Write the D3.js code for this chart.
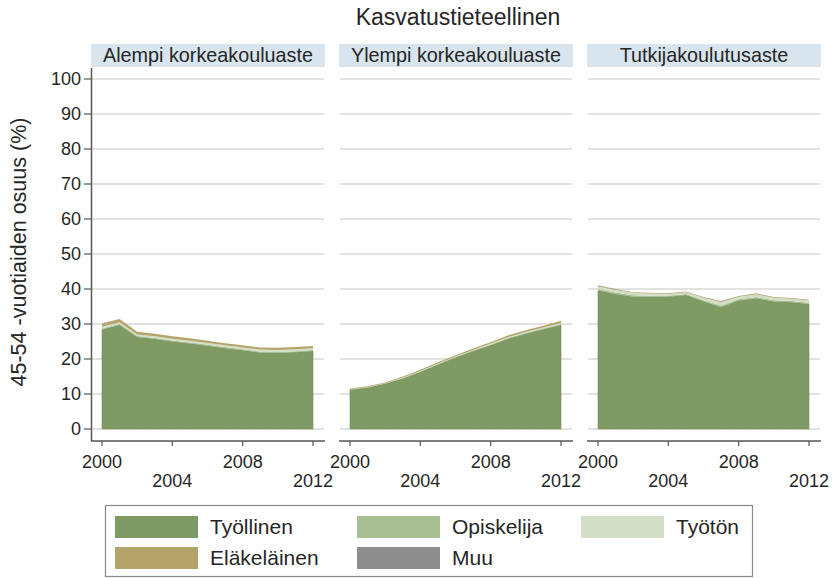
<!DOCTYPE html>
<html>
<head>
<meta charset="utf-8">
<script src="https://cdn.jsdelivr.net/npm/d3@7"></script>
<style>
  html, body { margin: 0; padding: 0; background: #fff; }
  svg { display: block; font-family: "Liberation Sans", Arial, Helvetica, sans-serif; }
</style>
</head>
<body>
<svg id="chart" width="833" height="578"></svg>
<script>
// Share of 45-54 year olds by main activity, education field: Kasvatustieteellinen
const chartTitle = "Kasvatustieteellinen";
const yAxisTitle = "45-54 -vuotiaiden osuus (%)";
const years = [2000, 2001, 2002, 2003, 2004, 2005, 2006, 2007, 2008, 2009, 2010, 2011, 2012];
const xTicks = [2000, 2004, 2008, 2012];
const yTicks = [0, 10, 20, 30, 40, 50, 60, 70, 80, 90, 100];
const panelNames = ["Alempi korkeakouluaste", "Ylempi korkeakouluaste", "Tutkijakoulutusaste"];
const seriesNames = ["Työllinen", "Opiskelija", "Työtön", "Eläkeläinen", "Muu"];
const seriesColors = ["#7f9a62", "#a8bf93", "#d3dec6", "#b4a46b", "#8e8e8e"];

// Alempi korkeakouluaste
const alempiTyollinen   = [28.4, 29.7, 26.3, 25.7, 25.0, 24.4, 23.8, 23.1, 22.5, 21.8, 21.7, 21.9, 22.3];
const alempiOpiskelija  = [0.3, 0.3, 0.3, 0.3, 0.3, 0.3, 0.3, 0.3, 0.3, 0.3, 0.3, 0.3, 0.3];
const alempiTyoton      = [0.5, 0.5, 0.4, 0.5, 0.5, 0.5, 0.5, 0.5, 0.5, 0.6, 0.6, 0.6, 0.5];
const alempiElakelainen = [0.9, 0.9, 0.8, 0.7, 0.7, 0.7, 0.6, 0.6, 0.6, 0.6, 0.6, 0.6, 0.6];
const alempiMuu         = [0.1, 0.0, 0.0, 0.0, 0.0, 0.0, 0.0, 0.0, 0.0, 0.0, 0.0, 0.0, 0.0];

// Ylempi korkeakouluaste
const ylempiTyollinen   = [11.2, 11.8, 12.9, 14.4, 16.3, 18.4, 20.4, 22.2, 23.9, 25.8, 27.2, 28.5, 29.7];
const ylempiOpiskelija  = [0.1, 0.1, 0.1, 0.1, 0.1, 0.1, 0.1, 0.2, 0.2, 0.2, 0.2, 0.2, 0.2];
const ylempiTyoton      = [0.1, 0.1, 0.1, 0.2, 0.2, 0.2, 0.2, 0.2, 0.3, 0.3, 0.3, 0.3, 0.4];
const ylempiElakelainen = [0.2, 0.2, 0.2, 0.3, 0.3, 0.4, 0.4, 0.4, 0.4, 0.5, 0.5, 0.5, 0.6];
const ylempiMuu         = [0.0, 0.0, 0.0, 0.0, 0.0, 0.0, 0.0, 0.0, 0.0, 0.0, 0.0, 0.0, 0.0];

// Tutkijakoulutusaste
const tutkijaTyollinen   = [39.6, 38.6, 37.8, 37.8, 37.8, 38.3, 36.4, 34.8, 36.7, 37.3, 36.4, 36.2, 35.7];
const tutkijaOpiskelija  = [0.4, 0.4, 0.4, 0.3, 0.3, 0.3, 0.4, 0.5, 0.4, 0.4, 0.4, 0.4, 0.4];
const tutkijaTyoton      = [0.7, 0.7, 0.7, 0.6, 0.5, 0.5, 0.7, 0.9, 0.7, 0.8, 0.7, 0.6, 0.6];
const tutkijaElakelainen = [0.3, 0.2, 0.2, 0.2, 0.2, 0.2, 0.2, 0.3, 0.2, 0.3, 0.2, 0.2, 0.2];
const tutkijaMuu         = [0.1, 0.1, 0.0, 0.0, 0.0, 0.0, 0.0, 0.1, 0.0, 0.0, 0.0, 0.0, 0.0];

const panelSeries = [
  [alempiTyollinen, alempiOpiskelija, alempiTyoton, alempiElakelainen, alempiMuu],
  [ylempiTyollinen, ylempiOpiskelija, ylempiTyoton, ylempiElakelainen, ylempiMuu],
  [tutkijaTyollinen, tutkijaOpiskelija, tutkijaTyoton, tutkijaElakelainen, tutkijaMuu]
];

// ---- layout ----
const svg = d3.select("#chart");
const textColor = "#262626";
const axisColor = "#555";
const gridColor = "#d8d8d8";
const stripColor = "#d8e5ee";

const panelLeft0 = 91, panelWidth = 234, panelGap = 14;
const stripTop = 44, stripBottom = 67;
const plotBottom = 441;
const padL = 11, padR = 12;

const y = d3.scaleLinear().domain([0, 100]).range([429, 79]);

// title
svg.append("text")
  .attr("x", 458).attr("y", 25)
  .attr("text-anchor", "middle")
  .attr("font-size", 23)
  .attr("fill", textColor)
  .text(chartTitle);

// y axis title
svg.append("text")
  .attr("transform", "translate(26,252) rotate(-90)")
  .attr("text-anchor", "middle")
  .attr("font-size", 21.5)
  .attr("fill", textColor)
  .text(yAxisTitle);

const stack = d3.stack()
  .keys(d3.range(seriesNames.length))
  .value((d, k) => d.vals[k]);

panelNames.forEach((name, p) => {
  const left = panelLeft0 + p * (panelWidth + panelGap);
  const right = left + panelWidth;
  const g = svg.append("g");

  const x = d3.scaleLinear().domain([2000, 2012]).range([left + padL, right - padR]);

  // strip
  g.append("rect")
    .attr("x", left).attr("y", stripTop)
    .attr("width", panelWidth).attr("height", stripBottom - stripTop)
    .attr("fill", stripColor);
  g.append("text")
    .attr("x", left + panelWidth / 2).attr("y", 62)
    .attr("text-anchor", "middle")
    .attr("font-size", 19.8)
    .attr("fill", textColor)
    .text(name);

  // gridlines
  g.selectAll("line.grid").data(yTicks).join("line")
    .attr("class", "grid")
    .attr("x1", left + 1).attr("x2", right - 1)
    .attr("y1", d => y(d)).attr("y2", d => y(d))
    .attr("stroke", gridColor).attr("stroke-width", 1.6);

  // stacked areas
  const rows = years.map((yr, i) => ({ year: yr, vals: panelSeries[p].map(s => s[i]) }));
  const layers = stack(rows);
  const area = d3.area()
    .x(d => x(d.data.year))
    .y0(d => y(d[0]))
    .y1(d => y(d[1]));
  g.selectAll("path.layer").data(layers).join("path")
    .attr("class", "layer")
    .attr("d", area)
    .attr("fill", (d, i) => seriesColors[i])
    .attr("stroke", (d, i) => i === 0 ? d3.color(seriesColors[i]).darker(0.25) : "none")
    .attr("stroke-width", 0.6);

  // x axis
  const xAxis = g.append("g");
  xAxis.append("line")
    .attr("x1", left).attr("x2", right)
    .attr("y1", plotBottom).attr("y2", plotBottom)
    .attr("stroke", axisColor).attr("stroke-width", 1.5);
  xAxis.selectAll("line.tick").data(xTicks).join("line")
    .attr("class", "tick")
    .attr("x1", d => x(d)).attr("x2", d => x(d))
    .attr("y1", plotBottom).attr("y2", plotBottom + 5)
    .attr("stroke", axisColor).attr("stroke-width", 1.2);
  xAxis.selectAll("text").data(xTicks).join("text")
    .attr("x", d => x(d))
    .attr("y", (d, i) => i % 2 === 0 ? 468 : 487)
    .attr("text-anchor", "middle")
    .attr("font-size", 18)
    .attr("fill", textColor)
    .text(d => d);

  // y axis on the first panel only
  if (p === 0) {
    const yAxis = g.append("g");
    yAxis.append("line")
      .attr("x1", left + 0.5).attr("x2", left + 0.5)
      .attr("y1", stripBottom + 1).attr("y2", plotBottom)
      .attr("stroke", axisColor).attr("stroke-width", 1.5);
    yAxis.selectAll("line.tick").data(yTicks).join("line")
      .attr("class", "tick")
      .attr("x1", left - 7).attr("x2", left)
      .attr("y1", d => y(d)).attr("y2", d => y(d))
      .attr("stroke", axisColor).attr("stroke-width", 1.2);
    yAxis.selectAll("text").data(yTicks).join("text")
      .attr("x", left - 10).attr("y", d => y(d))
      .attr("dy", "0.35em")
      .attr("text-anchor", "end")
      .attr("font-size", 18)
      .attr("fill", textColor)
      .text(d => d);
  }
});

// legend
const legend = svg.append("g");
legend.append("rect")
  .attr("x", 105.5).attr("y", 505.5)
  .attr("width", 647).attr("height", 71)
  .attr("fill", "#fff")
  .attr("stroke", "#8a8a8a").attr("stroke-width", 1.2);
const legendCols = [115, 357, 581];
const legendRows = [516, 547];
seriesNames.forEach((nm, i) => {
  const col = i % 3, row = Math.floor(i / 3);
  const lx = legendCols[col], ly = legendRows[row];
  legend.append("rect")
    .attr("x", lx).attr("y", ly)
    .attr("width", 83).attr("height", 22)
    .attr("fill", seriesColors[i]);
  legend.append("text")
    .attr("x", lx + 95).attr("y", ly + 11)
    .attr("dy", "0.35em")
    .attr("font-size", 21)
    .attr("fill", textColor)
    .text(nm);
});
</script>
</body>
</html>
